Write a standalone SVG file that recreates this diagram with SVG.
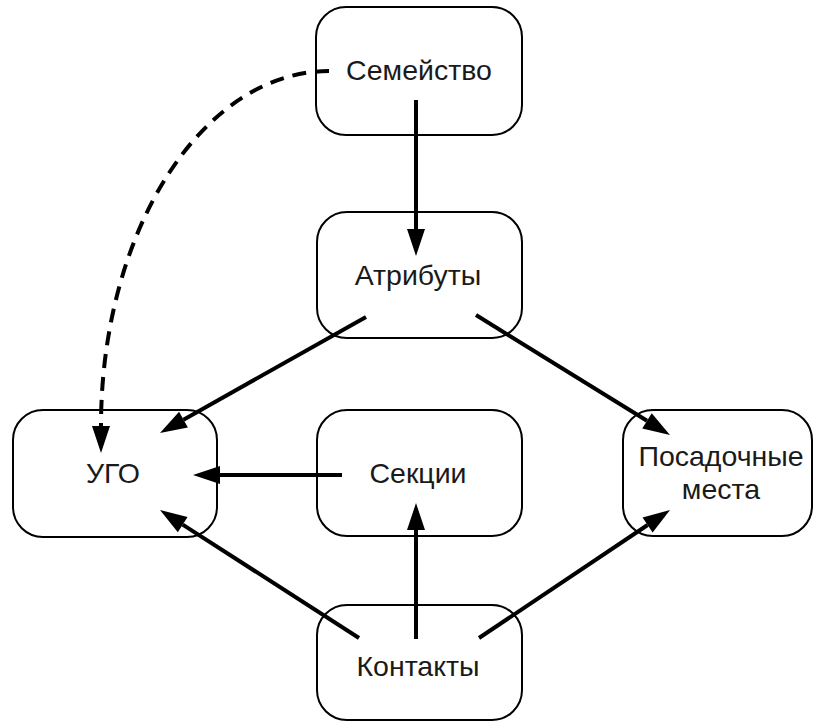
<svg xmlns="http://www.w3.org/2000/svg" width="818" height="728" viewBox="0 0 818 728">
  <style>
    .box { fill: #ffffff; stroke: #000000; stroke-width: 2; }
    .label { font-family: "Liberation Sans", Arial, sans-serif; font-size: 28.5px; fill: #1a1a1a; text-anchor: middle; }
    .link { fill: none; stroke: #000000; stroke-width: 4; marker-end: url(#arrow); }
    .dashed { stroke-dasharray: 14 9; }
  </style>
  <defs>
    <marker id="arrow" markerUnits="userSpaceOnUse" markerWidth="28" markerHeight="18" refX="0" refY="9" orient="auto" overflow="visible">
      <path d="M0,0 L27,9 L0,18 Z" fill="#000000"/>
    </marker>
  </defs>
  <rect width="818" height="728" fill="#ffffff"/>

  <g id="node-family">
    <rect class="box" x="316" y="7" width="206" height="128" rx="30" ry="30"/>
    <text class="label" x="419" y="80">Семейство</text>
  </g>
  <g id="node-attributes">
    <rect class="box" x="317" y="212" width="205" height="126" rx="30" ry="30"/>
    <text class="label" x="418" y="285">Атрибуты</text>
  </g>
  <g id="node-symbol">
    <rect class="box" x="13" y="410" width="204" height="127" rx="30" ry="30"/>
    <text class="label" x="113" y="483">УГО</text>
  </g>
  <g id="node-sections">
    <rect class="box" x="317" y="410" width="205" height="126" rx="30" ry="30"/>
    <text class="label" x="418" y="483">Секции</text>
  </g>
  <g id="node-footprints">
    <rect class="box" x="623" y="410" width="189" height="126" rx="30" ry="30"/>
    <text class="label" x="721" y="466">Посадочные</text>
    <text class="label" x="721" y="499">места</text>
  </g>
  <g id="node-pins">
    <rect class="box" x="317" y="605" width="205" height="115" rx="30" ry="30"/>
    <text class="label" x="418" y="676">Контакты</text>
  </g>

  <g id="connectors">
    <path class="link dashed" d="M329,71 A228,355 0 0 0 101,426"/>
    <path class="link" d="M416,100 L416,229"/>
    <path class="link" d="M366,317 L183.5,419.7"/>
    <path class="link" d="M476,315 L647,420.8"/>
    <path class="link" d="M342,475 L220,475"/>
    <path class="link" d="M416,639 L416,530"/>
    <path class="link" d="M359,638 L182.7,524.6"/>
    <path class="link" d="M479,638 L647.6,525"/>
  </g>
</svg>
